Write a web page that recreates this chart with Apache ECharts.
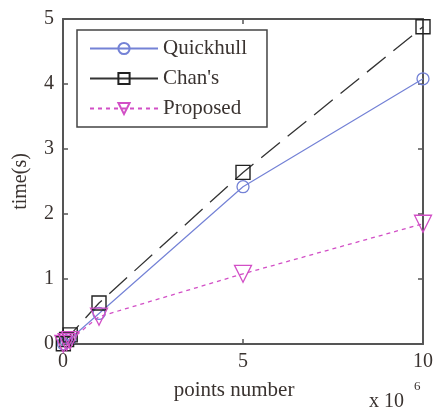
<!DOCTYPE html>
<html><head><meta charset="utf-8">
<script src="https://cdn.jsdelivr.net/npm/echarts@6/dist/echarts.min.js"></script>
<style>html,body{margin:0;padding:0;background:#fff}#c{width:434px;height:414px}</style>
</head><body><div id="c"></div>
<script>
const pointsX = [0.01, 0.1, 0.2, 1, 5, 10];
const quickhull = [0.003, 0.04, 0.08, 0.47, 2.42, 4.08];
const chans = [0.004, 0.07, 0.14, 0.63, 2.64, 4.88];
const proposed = [0.002, 0.03, 0.06, 0.42, 1.08, 1.85];
const xTicks = [0, 5, 10];
const yTicks = [0, 1, 2, 3, 4, 5];

const font = 'Liberation Serif';
const txt = '#3a3330';
const pair = (ys) => pointsX.map((x, i) => [x, ys[i]]);
const chart = echarts.init(document.getElementById('c'));
const axisBase = {
  axisLine: {show: true, onZero: false, lineStyle: {color: '#555', width: 2}},
  axisTick: {show: true, inside: true, length: 5, lineStyle: {color: '#555', width: 1.5}},
  splitLine: {show: false}
};
chart.setOption({
  animation: false,
  grid: {left: 63, right: 11, top: 19, bottom: 70, show: false, containLabel: false, outerBoundsMode: 'none'},
  legend: {
    left: 77, top: 30, orient: 'vertical',
    itemWidth: 68, itemHeight: 14, itemGap: 9,
    padding: [8, 20, 8, 12],
    borderColor: '#444', borderWidth: 1.5,
    textStyle: {fontFamily: font, fontSize: 21, color: txt},
    data: [
      {name: 'Quickhull'},
      {name: "Chan's", lineStyle: {type: 'solid'}},
      {name: 'Proposed'}
    ]
  },
  xAxis: [
    Object.assign({}, axisBase, {type: 'value', min: 0, max: 10, interval: 5,
      axisLabel: {fontFamily: font, fontSize: 20, color: txt, margin: 8},
      name: 'points number', nameLocation: 'middle', nameGap: 36,
      nameTextStyle: {fontFamily: font, fontSize: 21, color: txt, padding: [0, 18, 0, 0]}}),
    Object.assign({}, axisBase, {type: 'value', position: 'top', min: 0, max: 10, interval: 5,
      axisLabel: {show: false}})
  ],
  yAxis: [
    Object.assign({}, axisBase, {type: 'value', min: 0, max: 5, interval: 1,
      axisLabel: {fontFamily: font, fontSize: 20, color: txt, margin: 9},
      name: 'time(s)', nameLocation: 'middle', nameGap: 32,
      nameTextStyle: {fontFamily: font, fontSize: 20, color: txt}}),
    Object.assign({}, axisBase, {type: 'value', position: 'right', min: 0, max: 5, interval: 1,
      axisLabel: {show: false}})
  ],
  graphic: [
    {type: 'text', left: 369, top: 392,
      style: {text: 'x 10', fontFamily: font, fontSize: 20, fill: txt}},
    {type: 'text', left: 414, top: 380,
      style: {text: '6', fontFamily: font, fontSize: 13, fill: txt}}
  ],
  series: [
    {name: 'Quickhull', type: 'line', data: pair(quickhull), symbol: 'circle', symbolSize: 12,
      lineStyle: {color: '#7482d6', width: 1.2},
      itemStyle: {color: 'rgba(255,255,255,0)', borderColor: '#7482d6', borderWidth: 1.3}},
    {name: "Chan's", type: 'line', data: pair(chans), symbol: 'rect', symbolSize: 14,
      lineStyle: {color: '#333', width: 1.3, type: [24, 10]},
      itemStyle: {color: 'rgba(255,255,255,0)', borderColor: '#222', borderWidth: 1.4}},
    {name: 'Proposed', type: 'line', data: pair(proposed), symbol: 'triangle', symbolRotate: 180, symbolSize: 17,
      lineStyle: {color: '#d24fc6', width: 1.3, type: [4, 4]},
      itemStyle: {color: 'rgba(255,255,255,0)', borderColor: '#d24fc6', borderWidth: 1.3}}
  ]
});
</script></body></html>
